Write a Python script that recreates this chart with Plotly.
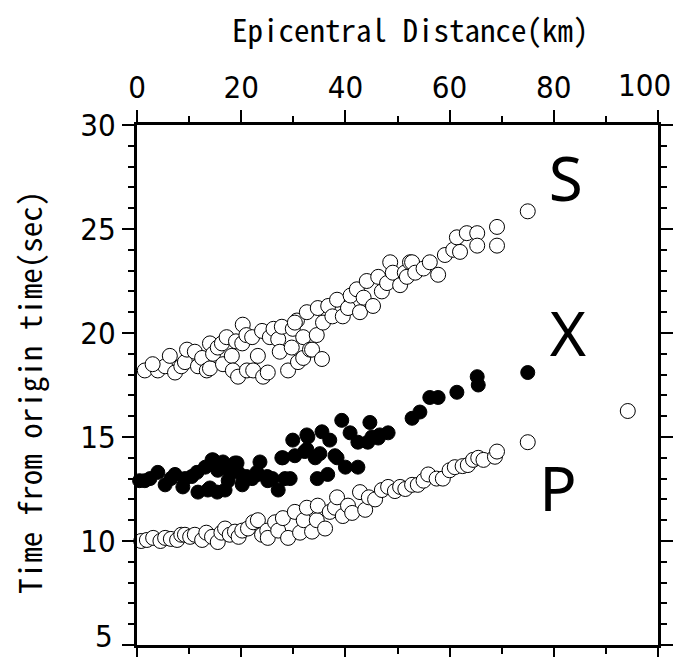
import plotly.graph_objects as go

# S-wave arrivals (open circles)
S_x = [1.5, 4.0, 5.4, 7.3, 6.3, 3.0, 8.5, 9.2, 9.6, 11.1, 11.7, 12.5, 13.4, 14.0, 14.0, 14.6, 15.5, 16.3, 16.5, 17.2,
       18.2, 18.4, 19.4, 19.0, 20.2, 20.3, 21.0, 22.1, 21.1, 22.3, 23.2, 24.0, 24.2, 25.1, 25.5, 26.2, 27.1, 27.4, 27.8,
       29.0, 29.9, 29.7, 30.7, 30.9, 30.3, 31.9, 32.6, 31.9, 33.2, 33.6, 35.5, 34.5, 34.7, 35.7, 36.7, 37.5, 38.4, 39.5,
       40.5, 41.0, 42.2, 42.8, 43.5, 44.1, 45.3, 46.3, 47.0, 48.0, 48.6, 49.1, 50.5, 51.4, 51.8, 52.4, 52.8, 53.4, 55.0,
       56.2, 57.8, 59.1, 60.7, 61.4, 62.0, 63.3, 65.3, 65.3, 69.1, 69.1, 75.0]
S_y = [18.2, 18.2, 18.4, 18.1, 18.9, 18.5, 18.4, 18.6, 19.2, 19.1, 18.4, 18.8, 18.2, 18.3, 19.5, 19.0, 19.3, 19.5, 18.5, 19.8,
       18.9, 18.2, 17.9, 19.6, 19.5, 20.4, 19.9, 19.8, 18.2, 18.2, 18.9, 20.1, 17.9, 18.1, 19.8, 20.2, 19.7, 19.1, 20.3,
       18.2, 20.2, 19.3, 20.6, 18.6, 20.5, 19.8, 21.0, 18.8, 19.2, 19.2, 18.75, 19.9, 21.2, 20.5, 21.3, 20.8, 21.6, 20.8,
       21.2, 21.8, 22.1, 21.0, 21.7, 22.5, 21.3, 22.7, 22.0, 22.4, 23.4, 22.9, 22.3, 22.9, 22.7, 23.4, 23.4, 22.9, 23.1,
       23.4, 22.8, 23.75, 24.0, 24.6, 23.9, 24.8, 24.8, 24.2, 25.1, 24.2, 25.85]

# X phase (filled circles)
X_x = [0.5, 1.5, 2.5, 4.0, 5.4, 6.5, 7.3, 8.8, 9.2, 10.5, 11.5, 11.7, 13.1, 13.6, 14.0, 14.4, 14.6, 15.4, 15.5, 16.5,
       16.9, 17.5, 17.9, 18.8, 19.2, 19.4, 20.2, 20.3, 21.0, 22.1, 23.0, 23.2, 23.6, 25.0, 25.1, 26.0, 27.1, 27.8, 28.0,
       28.4, 29.4, 29.9, 30.3, 32.2, 32.6, 32.6, 32.8, 34.2, 34.6, 35.1, 35.5, 36.6, 37.0, 38.0, 38.4, 39.3, 40.0, 40.9,
       42.4, 42.4, 44.3, 44.7, 45.1, 46.3, 46.6, 48.2, 52.8, 54.3, 56.2, 57.8, 61.4, 65.3, 65.5, 75.0]
X_y = [12.9, 12.9, 13.0, 13.3, 12.7, 13.0, 13.2, 12.6, 13.0, 13.1, 13.3, 12.35, 13.55, 12.45, 12.55, 13.9, 13.9, 12.35, 13.4, 13.8,
       12.45, 12.9, 13.3, 13.75, 13.75, 13.3, 12.7, 12.8, 13.1, 13.0, 13.3, 13.2, 13.8, 13.1, 12.9, 13.0, 12.45, 14.0, 14.0,
       13.0, 13.0, 14.85, 14.1, 14.3, 15.1, 14.4, 15.0, 14.0, 13.0, 14.2, 15.25, 13.2, 14.85, 14.1, 14.0, 15.8, 13.55, 15.2,
       14.75, 13.55, 14.75, 15.7, 15.0, 14.95, 15.1, 15.2, 15.9, 16.2, 16.9, 16.9, 17.15, 17.9, 17.5, 18.1]

# P-wave arrivals (open circles)
P_x = [0.8, 1.9, 3.1, 4.5, 5.4, 6.5, 7.7, 8.5, 9.2, 10.2, 11.1, 12.5, 13.3, 14.4, 15.5, 16.2, 16.9, 17.8, 18.8, 19.5,
       20.2, 21.3, 22.3, 23.2, 24.0, 25.0, 25.1, 26.5, 27.1, 28.0, 29.0, 30.3, 31.3, 32.0, 32.6, 33.6, 34.5, 34.7, 36.1,
       37.0, 38.0, 38.4, 39.5, 40.5, 41.3, 42.8, 43.8, 44.5, 45.7, 47.0, 48.2, 49.5, 50.5, 51.5, 52.8, 53.9, 55.0, 55.9,
       57.5, 58.7, 60.0, 61.0, 62.5, 63.5, 64.5, 65.5, 66.5, 68.7, 69.1, 75.0]
P_y = [10.0, 10.05, 10.15, 10.0, 10.15, 10.1, 10.05, 10.3, 10.3, 10.2, 10.3, 10.05, 10.4, 10.2, 9.95, 10.4, 10.6, 10.3, 10.45, 10.2,
       10.5, 10.6, 10.9, 11.0, 10.3, 10.5, 10.15, 10.9, 10.5, 11.1, 10.15, 11.4, 10.4, 11.0, 11.6, 10.45, 11.0, 11.7, 10.6,
       11.4, 11.6, 12.1, 11.2, 11.7, 11.35, 12.35, 11.5, 12.1, 12.0, 12.45, 12.6, 12.4, 12.6, 12.5, 12.7, 12.7, 12.9, 13.2,
       13.0, 13.0, 13.4, 13.55, 13.6, 13.65, 13.9, 14.0, 13.9, 14.05, 14.3, 14.75]

# isolated open circle
O_x = [94.2]
O_y = [16.25]

phase_labels = ["S", "X", "P"]
phase_x = [82.3, 82.7, 80.8]
phase_y = [27.1, 19.65, 12.2]

x_ticks = [0, 20, 40, 60, 80, 100]
x_ticktext = ["0", "20", "40", "60", "80", ""]   # "100" drawn as an annotation so it stays inside the page
last_x_label = "100"
y_ticks = [5, 10, 15, 20, 25, 30]
y_ticktext = ["", "10", "15", "20", "25", "30"]  # "5" drawn as an annotation so it stays inside the page
first_y_label = "5"

open_marker = dict(size=15, color="white", line=dict(color="black", width=1))
fill_marker = dict(size=14, color="black", line=dict(color="black", width=1))

fig = go.Figure()
fig.add_trace(go.Scatter(x=S_x, y=S_y, mode="markers", marker=open_marker, showlegend=False, cliponaxis=False))
fig.add_trace(go.Scatter(x=P_x, y=P_y, mode="markers", marker=open_marker, showlegend=False, cliponaxis=False))
fig.add_trace(go.Scatter(x=X_x, y=X_y, mode="markers", marker=fill_marker, showlegend=False, cliponaxis=False))
fig.add_trace(go.Scatter(x=O_x, y=O_y, mode="markers", marker=open_marker, showlegend=False, cliponaxis=False))
fig.add_trace(go.Scatter(x=phase_x, y=phase_y, mode="text", text=phase_labels,
                         textfont=dict(family="Noto Sans", size=62, color="black"), showlegend=False))

tickfont = dict(family="DejaVu Sans Condensed", size=31, color="black")
titlefont = dict(family="Noto Sans Mono CJK JP, DejaVu Sans Mono", size=31, color="black")

fig.update_xaxes(side="top", range=[0, 100], tickvals=x_ticks, ticktext=x_ticktext,
                 ticks="outside", ticklen=12, tickwidth=2, tickcolor="black",
                 minor=dict(dtick=10, ticks="outside", ticklen=6, tickwidth=2, tickcolor="black"),
                 showline=True, linewidth=3, linecolor="black", mirror="allticks",
                 showgrid=False, zeroline=False, tickfont=tickfont,
                 automargin=False, ticklabeloverflow="allow")
fig.update_yaxes(range=[5, 30], tickvals=y_ticks, ticktext=y_ticktext,
                 ticks="outside", ticklen=12, tickwidth=2, tickcolor="black",
                 minor=dict(dtick=1, ticks="outside", ticklen=6, tickwidth=2, tickcolor="black"),
                 showline=True, linewidth=3, linecolor="black", mirror="allticks",
                 showgrid=False, zeroline=False, tickfont=tickfont,
                 automargin=False, ticklabeloverflow="allow")

fig.update_layout(
    width=681, height=657,
    margin=dict(l=137, r=23, t=125, b=12, autoexpand=False),
    plot_bgcolor="white", paper_bgcolor="white",
    annotations=[
        dict(text="Epicentral Distance(km)", xref="paper", yref="paper", x=0.525, y=1.0, yshift=97,
             showarrow=False, font=titlefont, xanchor="center", yanchor="middle"),
        dict(text="Time from origin time(sec)", xref="paper", yref="paper", x=0, xshift=-108, y=0.485,
             showarrow=False, font=titlefont, textangle=-90, xanchor="center", yanchor="middle"),
        dict(text=last_x_label, xref="x", yref="paper", x=x_ticks[-1], y=1.0, yshift=40, xshift=-14,
             showarrow=False, font=tickfont, xanchor="center", yanchor="middle"),
        dict(text=first_y_label, xref="paper", yref="paper", x=0, y=0, xshift=-22, yshift=-11,
             showarrow=False, font=tickfont, xanchor="right", yanchor="bottom"),
    ],
)

fig.write_html("out.html", config={"displayModeBar": False},
               post_script="document.body.style.margin='0';document.body.style.overflow='hidden';")
